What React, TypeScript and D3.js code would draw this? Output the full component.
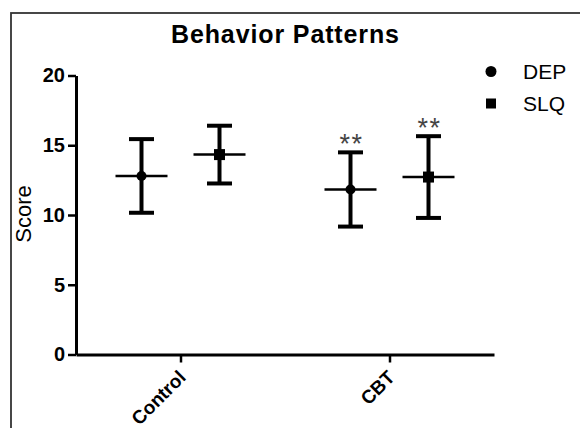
import React, { useEffect, useRef } from 'react'
import * as d3 from 'd3'

const groups = ['Control', 'CBT']
const seriesNames = ['DEP', 'SLQ']
const means = {
    DEP: [12.8, 11.83],
    SLQ: [14.33, 12.72],
}
const sds = {
    DEP: [2.64, 2.66],
    SLQ: [2.07, 2.93],
}
const significance = {
    DEP: ['', '**'],
    SLQ: ['', '**'],
}
const yTicks = [0, 5, 10, 15, 20]

const W = 580
const H = 428
const FONT = '"Liberation Sans", Arial, sans-serif'

export default function App() {
    const svgRef = useRef<SVGSVGElement>(null)

    useEffect(() => {
        const svg = d3.select(svgRef.current)
        svg.selectAll('*').remove()

        const y = d3.scaleLinear().domain([0, 20]).range([354.5, 75.5])
        const x = d3.scalePoint().domain(groups).range([76, 494]).padding(0.5)
        const offset = d3.scalePoint().domain(seriesNames).range([-39, 39])

        // frame
        svg.append('rect')
            .attr('x', 11).attr('y', 13)
            .attr('width', W).attr('height', H)
            .attr('fill', 'none')
            .attr('stroke', '#333')
            .attr('stroke-width', 1.8)

        // title
        svg.append('text')
            .attr('x', 285).attr('y', 43)
            .attr('text-anchor', 'middle')
            .style('font', `bold 25px ${FONT}`)
            .attr('textLength', 228)
            .text('Behavior Patterns')

        // y axis
        const yAxis = svg.append('g')
            .attr('transform', 'translate(76,0)')
            .call(d3.axisLeft(y).tickValues(yTicks).tickSize(8).tickSizeOuter(0).tickPadding(3))
        yAxis.select('.domain').attr('stroke', '#000').attr('stroke-width', 3)
        yAxis.selectAll('.tick line').attr('stroke', '#000').attr('stroke-width', 2.5)
        yAxis.selectAll('.tick text')
            .attr('fill', '#000')
            .style('font', `bold 20px ${FONT}`)

        // x axis
        const xAxis = svg.append('g')
            .attr('transform', 'translate(0,354.5)')
            .call(d3.axisBottom(x).tickSize(8).tickSizeOuter(0))
        xAxis.select('.domain').attr('stroke', '#000').attr('stroke-width', 3)
        xAxis.selectAll('.tick line').attr('stroke', '#000').attr('stroke-width', 2.5)
        xAxis.selectAll('.tick text')
            .attr('fill', '#000')
            .style('font', `bold 19px ${FONT}`)
            .attr('text-anchor', 'end')
            .attr('y', 0)
            .attr('dy', 0)
            .attr('transform', 'translate(6,24) rotate(-45)')

        // y label
        svg.append('text')
            .attr('transform', 'translate(31,214) rotate(-90)')
            .attr('text-anchor', 'middle')
            .style('font', `22px ${FONT}`)
            .text('Score')

        // error bars
        seriesNames.forEach(s => {
            groups.forEach((g, i) => {
                const cx = x(g) + offset(s)
                const m = means[s][i]
                const sd = sds[s][i]
                const bar = svg.append('g')
                bar.append('line')
                    .attr('x1', cx).attr('x2', cx)
                    .attr('y1', y(m + sd)).attr('y2', y(m - sd))
                    .attr('stroke', '#000').attr('stroke-width', 4)
                ;[m + sd, m - sd].forEach(v => {
                    bar.append('line')
                        .attr('x1', cx - 12.5).attr('x2', cx + 12.5)
                        .attr('y1', y(v)).attr('y2', y(v))
                        .attr('stroke', '#000').attr('stroke-width', 4)
                })
                bar.append('line')
                    .attr('x1', cx - 26).attr('x2', cx + 26)
                    .attr('y1', y(m)).attr('y2', y(m))
                    .attr('stroke', '#000').attr('stroke-width', 2.5)
                if (s === 'DEP') {
                    bar.append('circle').attr('cx', cx).attr('cy', y(m)).attr('r', 5)
                } else {
                    bar.append('rect')
                        .attr('x', cx - 5.5).attr('y', y(m) - 5.5)
                        .attr('width', 11).attr('height', 11)
                }
                const star = significance[s][i]
                if (star) {
                    bar.append('text')
                        .attr('x', cx + 1).attr('y', y(m + sd) + 1)
                        .attr('text-anchor', 'middle')
                        .attr('fill', '#444')
                        .attr('letter-spacing', 1.5)
                        .style('font', `27px ${FONT}`)
                        .text(star)
                }
            })
        })

        // legend
        const legend = svg.append('g')
        seriesNames.forEach((s, i) => {
            const ly = 71.5 + i * 32
            if (s === 'DEP') {
                legend.append('circle').attr('cx', 491).attr('cy', ly).attr('r', 5.5)
            } else {
                legend.append('rect')
                    .attr('x', 486).attr('y', ly - 5).attr('width', 10).attr('height', 10)
            }
            legend.append('text')
                .attr('x', 523).attr('y', ly + 7)
                .style('font', `21px ${FONT}`)
                .text(s)
        })
    }, [])

    return (
        <svg ref={svgRef} width={W} height={H}
             style={{ position: 'absolute', left: 0, top: 0, background: '#fff' }} />
    )
}
